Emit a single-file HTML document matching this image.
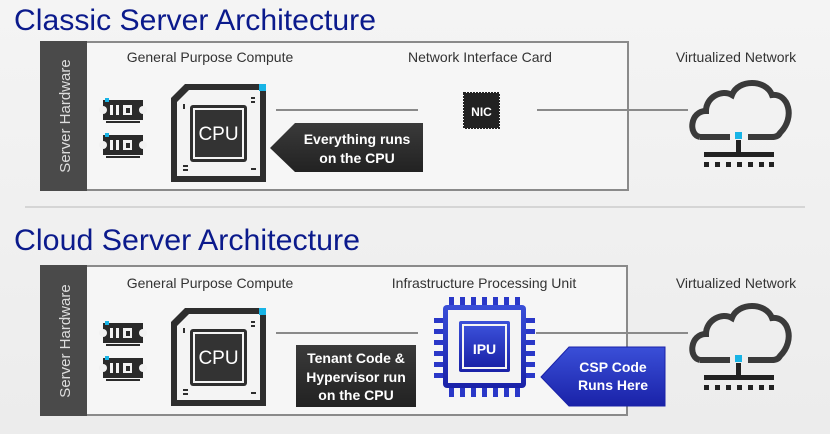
<!DOCTYPE html>
<html><head><meta charset="utf-8"><style>
body{margin:0;background:#f1f1f1;}
svg{display:block;font-family:"Liberation Sans",sans-serif;}
</style></head><body>
<svg width="830" height="434" viewBox="0 0 830 434" xmlns="http://www.w3.org/2000/svg">
<defs>
<linearGradient id="bg" x1="0" y1="0" x2="0" y2="1"><stop offset="0" stop-color="#f4f4f4"/><stop offset="1" stop-color="#ececec"/></linearGradient>
<linearGradient id="blue" x1="0" y1="0" x2="0" y2="1"><stop offset="0" stop-color="#3a4fd8"/><stop offset="1" stop-color="#1a22a8"/></linearGradient>
<linearGradient id="dark" x1="0" y1="0" x2="0" y2="1"><stop offset="0" stop-color="#3a3a3a"/><stop offset="1" stop-color="#222"/></linearGradient>
<g id="ram">
<rect x="0" y="2" width="40" height="20" fill="#2a2a2a"/>
<circle cx="0" cy="12" r="4" fill="#f2f2f2"/><circle cx="40" cy="12" r="4" fill="#f2f2f2"/>
<rect x="7" y="7" width="3" height="10" fill="#f2f2f2"/><rect x="13" y="7" width="3" height="10" fill="#f2f2f2"/>
<rect x="20" y="7" width="9" height="10" fill="#f2f2f2"/><rect x="23" y="10" width="4" height="5" fill="#2a2a2a"/>
<rect x="3" y="23" width="34" height="2" fill="#2a2a2a"/>
<rect x="2" y="0" width="4" height="4" fill="#18b4e6"/>
</g>
<g id="cpu">
<path d="M14 0 H95 V98 H0 V14 Z" fill="#2e2e2e"/>
<path d="M18 6 H89 V92 H6 V18 Z" fill="#f4f4f4"/>
<rect x="88" y="0" width="7" height="7" fill="#18b4e6"/>
<rect x="19" y="21" width="57" height="57" rx="3" fill="#2e2e2e"/>
<rect x="22" y="24" width="51" height="51" fill="#f4f4f4"/>
<rect x="24" y="26" width="47" height="47" fill="#333"/>
<text x="47.5" y="56" font-size="19" fill="#fff" text-anchor="middle">CPU</text>
<rect x="80" y="13" width="4" height="2" fill="#2e2e2e"/><rect x="80" y="17" width="4" height="2" fill="#2e2e2e"/>
<rect x="12" y="20" width="2" height="5" fill="#2e2e2e"/>
<rect x="12" y="81" width="5" height="2" fill="#2e2e2e"/><rect x="12" y="85" width="5" height="2" fill="#2e2e2e"/>
<rect x="80" y="84" width="5" height="2" fill="#2e2e2e"/>
</g>
<g id="cloud">
<path d="M8 60 C-4 58 -2 34 14 34 C14 20 30 12 40 18 C46 2 74 2 80 18 C96 16 104 40 88 56 C86 60 82 60 80 60 H56 M38 60 H8" fill="none" stroke="#3a3a3a" stroke-width="6"/>
<rect x="43" y="55" width="7" height="7" fill="#18b4e6"/>
<rect x="44" y="63" width="5" height="14" fill="#222"/>
<rect x="12" y="75" width="70" height="5" fill="#222"/>
<g fill="#222"><rect x="12" y="85" width="5" height="5"/><rect x="23" y="85" width="5" height="5"/><rect x="34" y="85" width="5" height="5"/><rect x="45" y="85" width="5" height="5"/><rect x="56" y="85" width="5" height="5"/><rect x="67" y="85" width="5" height="5"/><rect x="77" y="85" width="5" height="5"/></g>
</g>
</defs>
<rect width="830" height="434" fill="url(#bg)"/>
<!-- top -->
<text x="14" y="30" font-size="30" fill="#0b1a8c" textLength="362" lengthAdjust="spacingAndGlyphs">Classic Server Architecture</text>
<rect x="41" y="42" width="587" height="148" fill="#f6f6f6" stroke="#8a8a8a" stroke-width="2"/>
<rect x="40" y="41" width="47" height="150" fill="#4a4a4a"/>
<text transform="translate(70,116) rotate(-90)" font-size="15" fill="#ddd" text-anchor="middle">Server Hardware</text>
<text x="210" y="62" font-size="14" fill="#333" text-anchor="middle">General Purpose Compute</text>
<text x="480" y="62" font-size="14" fill="#333" text-anchor="middle">Network Interface Card</text>
<text x="736" y="62" font-size="14" fill="#333" text-anchor="middle">Virtualized Network</text>
<use href="#ram" x="103" y="98"/><use href="#ram" x="103" y="133"/>
<use href="#cpu" x="171" y="84"/>
<line x1="276" y1="110" x2="418" y2="110" stroke="#8a8a8a" stroke-width="2"/>
<path d="M270 148 L295 123 H423 V172 H295 Z" fill="url(#dark)"/>
<text x="357" y="144" font-size="14" font-weight="bold" fill="#fff" text-anchor="middle">Everything runs</text>
<text x="357" y="163" font-size="14" font-weight="bold" fill="#fff" text-anchor="middle">on the CPU</text>
<rect x="464" y="93" width="35" height="35" fill="#222" stroke="#222" stroke-width="2" stroke-dasharray="2 1"/>
<text x="481.5" y="116" font-size="12" font-weight="bold" fill="#fff" text-anchor="middle">NIC</text>
<line x1="537" y1="110" x2="688" y2="110" stroke="#8a8a8a" stroke-width="2"/>
<use href="#cloud" x="692" y="77"/>
<line x1="25" y1="207" x2="805" y2="207" stroke="#ccc" stroke-width="1.5"/>
<!-- bottom -->
<text x="14" y="250" font-size="30" fill="#0b1a8c" textLength="346" lengthAdjust="spacingAndGlyphs">Cloud Server Architecture</text>
<rect x="41" y="266" width="586" height="149" fill="#f6f6f6" stroke="#8a8a8a" stroke-width="2"/>
<rect x="40" y="265" width="47" height="151" fill="#4a4a4a"/>
<text transform="translate(70,341) rotate(-90)" font-size="15" fill="#ddd" text-anchor="middle">Server Hardware</text>
<text x="210" y="288" font-size="14" fill="#333" text-anchor="middle">General Purpose Compute</text>
<text x="484" y="288" font-size="14" fill="#333" text-anchor="middle">Infrastructure Processing Unit</text>
<text x="736" y="288" font-size="14" fill="#333" text-anchor="middle">Virtualized Network</text>
<use href="#ram" x="103" y="321"/><use href="#ram" x="103" y="356"/>
<use href="#cpu" x="171" y="308"/>
<line x1="276" y1="333" x2="418" y2="333" stroke="#8a8a8a" stroke-width="2"/>
<path d="M296 345 H416 V407 H296 Z" fill="url(#dark)"/>
<text x="356" y="363" font-size="14" font-weight="bold" fill="#fff" text-anchor="middle">Tenant Code &amp;</text>
<text x="356" y="382" font-size="14" font-weight="bold" fill="#fff" text-anchor="middle">Hypervisor run</text>
<text x="356" y="400" font-size="14" font-weight="bold" fill="#fff" text-anchor="middle">on the CPU</text>
<!-- IPU -->
<g fill="#2a38c8">
<g id="pins">
<rect x="449" y="297" width="5" height="9"/><rect x="460" y="297" width="5" height="9"/><rect x="471" y="297" width="5" height="9"/><rect x="482" y="297" width="5" height="9"/><rect x="493" y="297" width="5" height="9"/><rect x="504" y="297" width="5" height="9"/><rect x="515" y="297" width="5" height="9"/>
</g>
<use href="#pins" y="91"/>
<rect x="434" y="318" width="9" height="5"/><rect x="434" y="329" width="9" height="5"/><rect x="434" y="340" width="9" height="5"/><rect x="434" y="351" width="9" height="5"/><rect x="434" y="362" width="9" height="5"/><rect x="434" y="373" width="9" height="5"/>
<rect x="526" y="318" width="9" height="5"/><rect x="526" y="329" width="9" height="5"/><rect x="526" y="340" width="9" height="5"/><rect x="526" y="351" width="9" height="5"/><rect x="526" y="362" width="9" height="5"/><rect x="526" y="373" width="9" height="5"/>
</g>
<rect x="443" y="305" width="83" height="83" rx="4" fill="url(#blue)"/>
<rect x="448" y="310" width="73" height="73" fill="#f4f4f4"/>
<rect x="459" y="321" width="51" height="51" rx="2" fill="url(#blue)"/>
<rect x="462" y="324" width="45" height="45" fill="#f4f4f4"/>
<rect x="464" y="326" width="41" height="41" fill="url(#blue)"/>
<text x="484.5" y="354" font-size="14" font-weight="bold" fill="#fff" text-anchor="middle">IPU</text>
<line x1="536" y1="333" x2="688" y2="333" stroke="#8a8a8a" stroke-width="2"/>
<path d="M541 377 L569 347 H665 V406 H569 Z" fill="url(#blue)" stroke="#1a22a8"/>
<text x="613" y="372" font-size="14" font-weight="bold" fill="#fff" text-anchor="middle">CSP Code</text>
<text x="613" y="390" font-size="14" font-weight="bold" fill="#fff" text-anchor="middle">Runs Here</text>
<use href="#cloud" x="692" y="300"/>
</svg>
</body></html>
